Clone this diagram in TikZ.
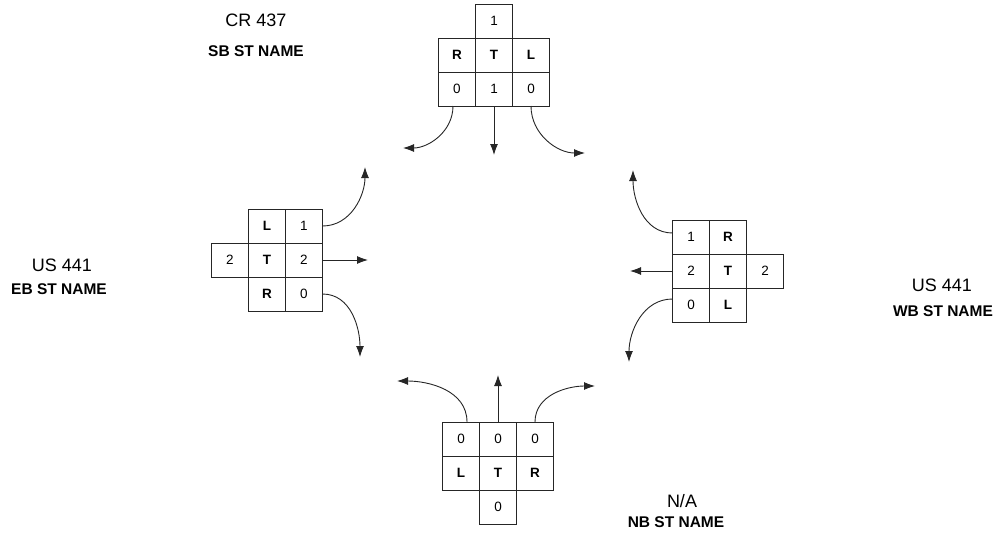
\documentclass[tikz,border=0pt]{standalone}
\usepackage{fontspec}
\setmainfont{Liberation Sans}
\usetikzlibrary{positioning,arrows.meta}

\tikzset{
	cell/.style={draw=black!85,line width=0.8pt,minimum width=37pt,minimum height=34pt,inner sep=0pt,outer sep=0pt,font=\fontsize{13.5}{15}\selectfont},
	dircell/.style={cell,font=\fontsize{13.5}{15}\selectfont\bfseries},
	road/.style={font=\fontsize{18}{20}\selectfont},
	stname/.style={font=\fontsize{15.5}{18}\selectfont\bfseries},
	move/.style={draw=black!85,line width=0.9pt,-{Latex[length=11pt,width=8pt]}}
}

\begin{document}
\begin{tikzpicture}[x=1pt,y=-1pt,node distance=0pt]
	\useasboundingbox (0,0) rectangle (997,538);

	\node[dircell] (sbT) at (494,55) {T};
	\node[dircell,left=of sbT] (sbR) {R};
	\node[dircell,right=of sbT] (sbL) {L};
	\node[cell,above=of sbT] (sbTlanes) {1};
	\node[cell,below=of sbR] (sbRn) {0};
	\node[cell,below=of sbT] (sbTn) {1};
	\node[cell,below=of sbL] (sbLn) {0};

	\node[dircell] (ebT) at (267,260) {T};
	\node[dircell,above=of ebT] (ebL) {L};
	\node[dircell,below=of ebT] (ebR) {R};
	\node[cell,left=of ebT] (ebTlanes) {2};
	\node[cell,right=of ebL] (ebLn) {1};
	\node[cell,right=of ebT] (ebTn) {2};
	\node[cell,right=of ebR] (ebRn) {0};

	\node[dircell] (wbT) at (728,271) {T};
	\node[dircell,above=of wbT] (wbR) {R};
	\node[dircell,below=of wbT] (wbL) {L};
	\node[cell,right=of wbT] (wbTlanes) {2};
	\node[cell,left=of wbR] (wbRn) {1};
	\node[cell,left=of wbT] (wbTn) {2};
	\node[cell,left=of wbL] (wbLn) {0};

	\node[dircell] (nbT) at (498,473) {T};
	\node[dircell,left=of nbT] (nbL) {L};
	\node[dircell,right=of nbT] (nbR) {R};
	\node[cell,below=of nbT] (nbTlanes) {0};
	\node[cell,above=of nbL] (nbLn) {0};
	\node[cell,above=of nbT] (nbTn) {0};
	\node[cell,above=of nbR] (nbRn) {0};

	\coordinate (sbRend) at (403,148);
	\coordinate (sbTend) at (494,155);
	\coordinate (sbLend) at (585,153);
	\coordinate (ebLend) at (365,167);
	\coordinate (ebTend) at (368,260);
	\coordinate (ebRend) at (360,357);
	\coordinate (wbRend) at (633,170);
	\coordinate (wbTend) at (630,271);
	\coordinate (wbLend) at (629,362);
	\coordinate (nbLend) at (397,381);
	\coordinate (nbTend) at (498,375);
	\coordinate (nbRend) at (595,386);

	\draw[move] ([xshift=-4pt]sbRn.south) to[out=-90,in=0] (sbRend);
	\draw[move] (sbTn.south) -- (sbTend);
	\draw[move] (sbLn.south) to[out=-90,in=180] (sbLend);
	\draw[move] (ebLn.east) to[out=0,in=-90] (ebLend);
	\draw[move] (ebTn.east) -- (ebTend);
	\draw[move] (ebRn.east) to[out=0,in=90] (ebRend);
	\draw[move] ([yshift=4pt]wbRn.west) to[out=180,in=-90] (wbRend);
	\draw[move] (wbTn.west) -- (wbTend);
	\draw[move] ([yshift=6pt]wbLn.west) to[out=180,in=90] (wbLend);
	\draw[move] ([xshift=6pt]nbLn.north) to[out=90,in=0] (nbLend);
	\draw[move] (nbTn.north) -- (nbTend);
	\draw[move] (nbRn.north) to[out=90,in=180] (nbRend);

	\node[road] (sbroad) at (256,20) {CR 437};
	\node[stname] (sbname) at (256,51) {SB ST NAME};
	\node[road] (ebroad) at (62,265) {US 441};
	\node[stname] (ebname) at (59,289) {EB ST NAME};
	\node[road] (wbroad) at (942,285) {US 441};
	\node[stname] (wbname) at (943,311) {WB ST NAME};
	\node[road] (nbroad) at (682,501) {N/A};
	\node[stname] (nbname) at (676,522) {NB ST NAME};
\end{tikzpicture}
\end{document}
